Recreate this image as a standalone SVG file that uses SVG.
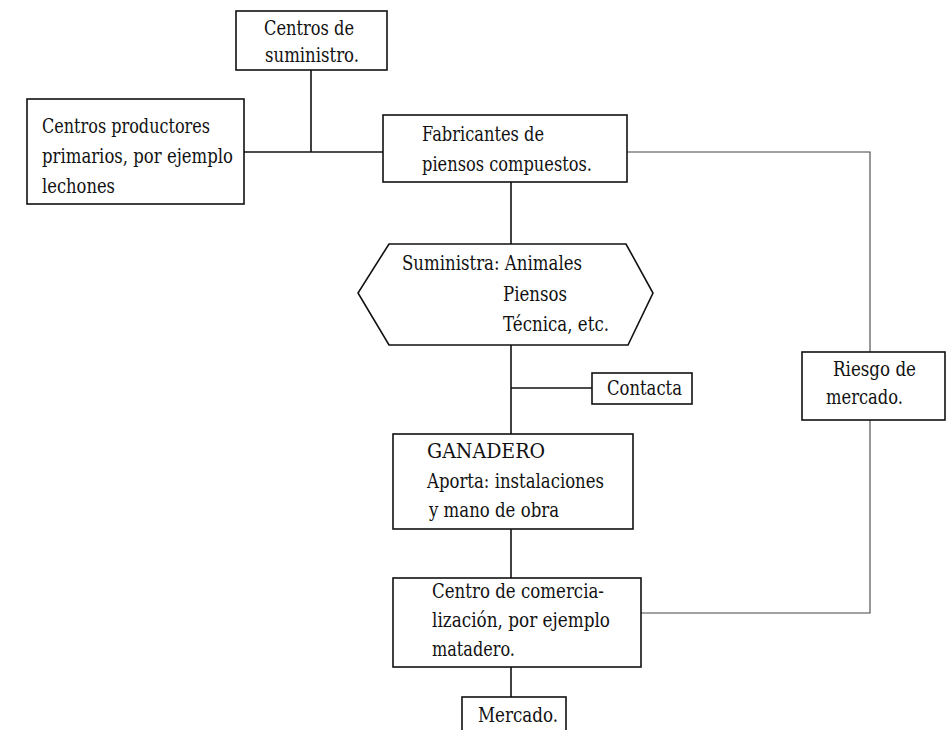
<svg xmlns="http://www.w3.org/2000/svg" width="948" height="730" viewBox="0 0 948 730">
<style>
.bx{fill:#fff;stroke:#111;stroke-width:1.6}
.ln{fill:none;stroke:#111;stroke-width:1.6}
.thin{fill:none;stroke:#444;stroke-width:1.1}
text{font-family:'DejaVu Serif',serif;font-size:20px;fill:#111}
</style>
<rect width="948" height="730" fill="#fff"/>
<g id="connectors">
<path class="ln" d="M311,70 V152"/>
<path class="ln" d="M244,152 H383"/>
<path class="ln" d="M511,182 V244"/>
<path class="thin" d="M627,152 H870 V352"/>
<path class="ln" d="M511,345 V434"/>
<path class="ln" d="M511,388 H592"/>
<path class="ln" d="M511,529 V578"/>
<path class="thin" d="M641,613 H870 V420"/>
<path class="ln" d="M511,667 V697"/>
</g>
<g id="suministro">
<rect class="bx" x="236" y="11" width="151" height="59"/>
<text x="264" y="35" textLength="90" lengthAdjust="spacingAndGlyphs">Centros de</text>
<text x="265" y="62" textLength="94" lengthAdjust="spacingAndGlyphs">suministro.</text>
</g>
<g id="productores">
<rect class="bx" x="27" y="99" width="217" height="105"/>
<text x="42" y="133" textLength="168" lengthAdjust="spacingAndGlyphs">Centros productores</text>
<text x="42" y="163" textLength="191" lengthAdjust="spacingAndGlyphs">primarios, por ejemplo</text>
<text x="42" y="193" textLength="73" lengthAdjust="spacingAndGlyphs">lechones</text>
</g>
<g id="fabricantes">
<rect class="bx" x="383" y="115" width="244" height="67"/>
<text x="422" y="141" textLength="122" lengthAdjust="spacingAndGlyphs">Fabricantes de</text>
<text x="422" y="171" textLength="170" lengthAdjust="spacingAndGlyphs">piensos compuestos.</text>
</g>
<g id="suministra">
<polygon class="bx" points="389,244 626,244 653,293 628,345 389,345 358,293"/>
<text x="402" y="270" textLength="180" lengthAdjust="spacingAndGlyphs">Suministra: Animales</text>
<text x="503" y="301" textLength="64" lengthAdjust="spacingAndGlyphs">Piensos</text>
<text x="503" y="331" textLength="106" lengthAdjust="spacingAndGlyphs">Técnica, etc.</text>
</g>
<g id="contacta">
<rect class="bx" x="592" y="373" width="100" height="31"/>
<text x="607" y="395" textLength="75" lengthAdjust="spacingAndGlyphs">Contacta</text>
</g>
<g id="riesgo">
<rect class="bx" x="802" y="352" width="143" height="68"/>
<text x="833" y="376" textLength="83" lengthAdjust="spacingAndGlyphs">Riesgo de</text>
<text x="826" y="404" textLength="77" lengthAdjust="spacingAndGlyphs">mercado.</text>
</g>
<g id="ganadero">
<rect class="bx" x="393" y="434" width="240" height="95"/>
<text x="427" y="458" textLength="118" lengthAdjust="spacingAndGlyphs">GANADERO</text>
<text x="427" y="488" textLength="177" lengthAdjust="spacingAndGlyphs">Aporta: instalaciones</text>
<text x="429" y="517" textLength="130" lengthAdjust="spacingAndGlyphs">y mano de obra</text>
</g>
<g id="comercializacion">
<rect class="bx" x="393" y="578" width="248" height="89"/>
<text x="432" y="598" textLength="172" lengthAdjust="spacingAndGlyphs">Centro de comercia-</text>
<text x="432" y="627" textLength="178" lengthAdjust="spacingAndGlyphs">lización, por ejemplo</text>
<text x="432" y="656" textLength="83" lengthAdjust="spacingAndGlyphs">matadero.</text>
</g>
<g id="mercado">
<rect class="bx" x="462" y="697" width="104" height="50"/>
<text x="478" y="722" textLength="80" lengthAdjust="spacingAndGlyphs">Mercado.</text>
</g>
</svg>
